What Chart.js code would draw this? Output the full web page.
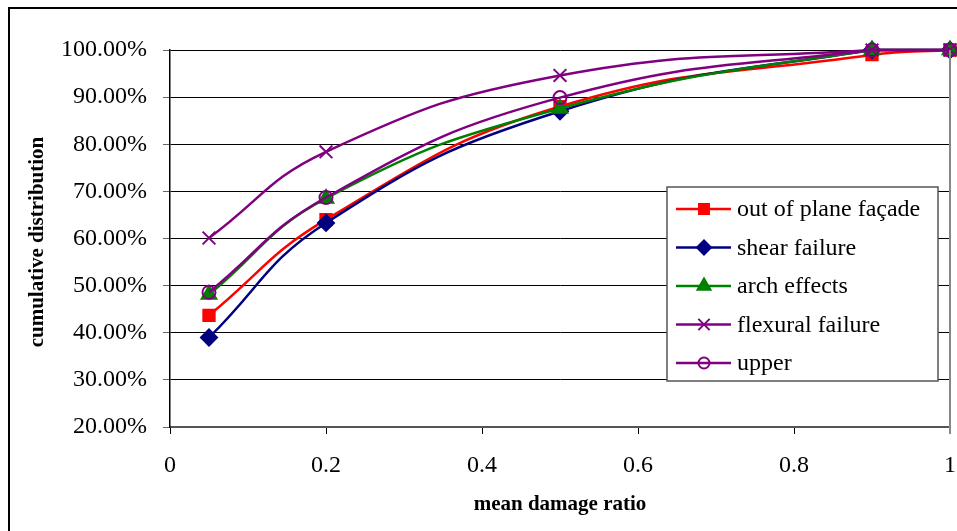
<!DOCTYPE html>
<html>
<head>
<meta charset="utf-8">
<script src="https://cdn.jsdelivr.net/npm/chart.js@4/dist/chart.umd.min.js"></script>
<style>
  html, body { margin:0; padding:0; background:#fff; overflow:hidden; }
  #frame { position:absolute; left:8px; top:7px; width:1000px; height:600px; border-left:2px solid #000; border-top:2px solid #000; }
  #c { position:absolute; left:0; top:0; }
</style>
</head>
<body>
<div id="frame"></div>
<canvas id="c" width="961" height="531"></canvas>
<script>
// ==== data ====
const damageRatio = [0.05, 0.2, 0.5, 0.9, 1];
const outOfPlane = [43.7, 64.0, 88.0, 99.0, 100];
const shearFailure = [39.0, 63.3, 87.0, 100, 100];
const archEffects = [48.1, 68.5, 87.6, 100, 100];
const flexuralFailure = [60.1, 78.4, 94.6, 100, 100];
const upper = [48.6, 68.7, 89.9, 100, 100];
const xTicks = [0, 0.2, 0.4, 0.6, 0.8, 1];
const yTicks = [20, 30, 40, 50, 60, 70, 80, 90, 100];

const FONT = '"Liberation Serif", "Times New Roman", serif';

function pts(ys){ return damageRatio.map((x,i)=>({x, y: ys[i]})); }

function series(label, ys, color, style, radius, fill, order){
  return {
    label, data: pts(ys), borderColor: color, backgroundColor: fill,
    pointBorderColor: color, pointBackgroundColor: fill,
    pointStyle: style, pointRadius: radius, pointBorderWidth: 2,
    borderWidth: 2.5, tension: 0.45, clip: false, order
  };
}

const datasets = [
  series('out of plane façade', outOfPlane, '#ff0000', 'rect', 8, '#ff0000', 4),
  series('shear failure', shearFailure, '#000080', 'rectRot', 8, '#000080', 3),
  series('arch effects', archEffects, '#008000', 'triangle', 8.5, '#008000', 2),
  series('flexural failure', flexuralFailure, '#800080', 'crossRot', 9, '#800080', 1),
  series('upper', upper, '#800080', 'circle', 6.5, 'rgba(0,0,0,0)', 0)
];

// legend + titles + right border drawn by hand (Excel style)
const extras = {
  id: 'extras',
  afterDraw(chart){
    const ctx = chart.ctx, a = chart.chartArea;
    ctx.save();
    // right border of plot area
    ctx.strokeStyle = '#888'; ctx.lineWidth = 2;
    ctx.beginPath(); ctx.moveTo(a.right, a.top); ctx.lineTo(a.right, a.bottom + 7); ctx.stroke();

    // axis titles
    ctx.fillStyle = '#000';
    ctx.font = 'bold 21px ' + FONT;
    ctx.textAlign = 'center'; ctx.textBaseline = 'middle';
    ctx.fillText('mean damage ratio', (a.left + a.right) / 2, 505);
    ctx.translate(38, 242); ctx.rotate(-Math.PI / 2);
    ctx.fillText('cumulative distribution', 0, 0);
    ctx.restore();

    // legend
    ctx.save();
    const bx = 667, by = 187, bw = 271, bh = 194;
    ctx.fillStyle = '#fff'; ctx.fillRect(bx, by, bw, bh);
    ctx.strokeStyle = '#555'; ctx.lineWidth = 1.5; ctx.strokeRect(bx, by, bw, bh);
    ctx.font = '24px ' + FONT; ctx.textAlign = 'left'; ctx.textBaseline = 'middle';
    chart.data.datasets.forEach((ds, i) => {
      const y = by + 22 + i * 38.5;
      ctx.strokeStyle = ds.borderColor; ctx.lineWidth = 2.5;
      ctx.beginPath(); ctx.moveTo(bx + 9, y); ctx.lineTo(bx + 64, y); ctx.stroke();
      ctx.fillStyle = ds.pointBackgroundColor; ctx.strokeStyle = ds.pointBorderColor; ctx.lineWidth = 2;
      Chart.helpers.drawPoint(ctx, { pointStyle: ds.pointStyle, radius: ds.pointRadius - 1, borderWidth: 2, rotation: 0 }, bx + 37, y);
      ctx.fillStyle = '#000';
      ctx.fillText(ds.label, bx + 70, y + 1);
    });
    ctx.restore();
  }
};

new Chart(document.getElementById('c'), {
  type: 'line',
  data: { datasets },
  plugins: [extras],
  options: {
    responsive: false, animation: false,
    layout: { padding: { left: 0, top: 50, right: 3, bottom: 0 } },
    plugins: { legend: { display: false }, tooltip: { enabled: false } },
    scales: {
      x: {
        type: 'linear', min: 0, max: 1,
        afterFit(s){ s.height = 104; s.paddingRight = 0; s.paddingLeft = 0; },
        afterBuildTicks(s){ s.ticks = xTicks.map(v => ({ value: v })); },
        ticks: { color: '#000', font: { family: FONT, size: 24 }, padding: 17, maxRotation: 0,
                 callback: v => String(v) },
        grid: { drawOnChartArea: false, drawTicks: true, tickLength: 7, color: '#000', tickWidth: 1 },
        border: { color: '#555', width: 2 }
      },
      y: {
        min: 20, max: 100,
        afterFit(s){ s.width = 170; },
        afterBuildTicks(s){ s.ticks = yTicks.map(v => ({ value: v })); },
        ticks: { color: '#000', font: { family: FONT, size: 24 }, padding: 16,
                 callback: v => v.toFixed(2) + '%' },
        grid: { color: '#000', lineWidth: 1, tickLength: 7, tickColor: '#666' },
        border: { color: '#000', width: 1.5 }
      }
    }
  }
});
</script>
</body>
</html>
